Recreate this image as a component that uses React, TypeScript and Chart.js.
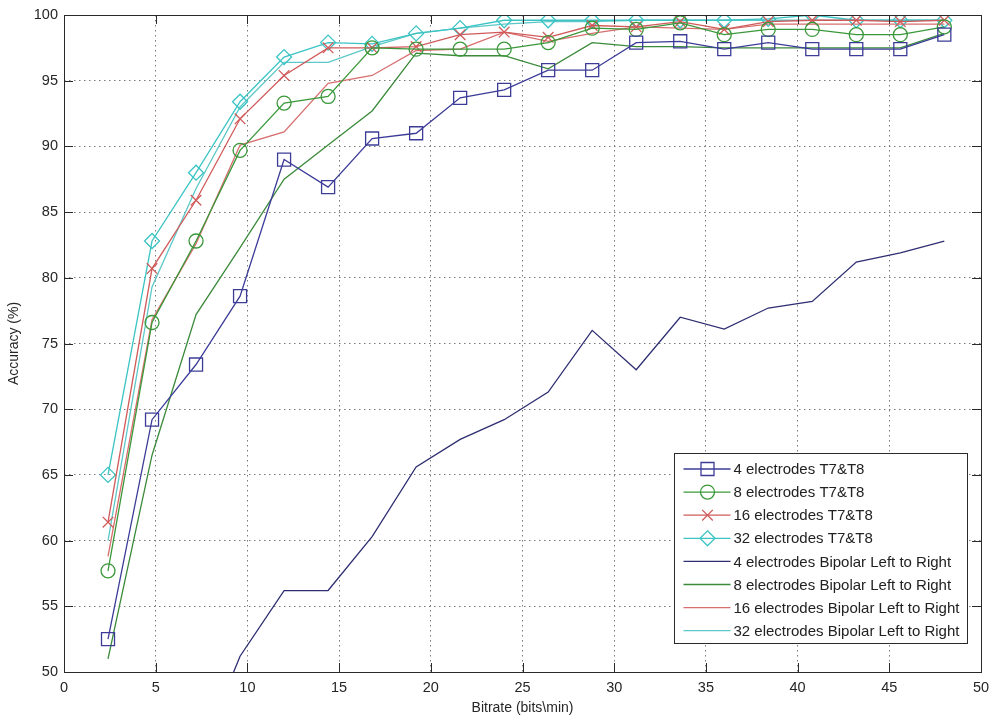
import React, { useEffect, useRef } from 'react';
import { Chart, registerables } from 'chart.js';

Chart.register(...registerables);

// ---- data ----
const bitrate = [2.4, 4.8, 7.2, 9.6, 12, 14.4, 16.8, 19.2, 21.6, 24, 26.4, 28.8, 31.2, 33.6, 36, 38.4, 40.8, 43.2, 45.6, 48];

const acc4T7T8 = [52.5, 69.2, 73.4, 78.6, 89.0, 86.9, 90.6, 91.0, 93.7, 94.3, 95.8, 95.8, 97.9, 98.0, 97.4, 97.9, 97.4, 97.4, 97.4, 98.5];
const acc8T7T8 = [57.7, 76.6, 82.8, 89.7, 93.3, 93.8, 97.5, 97.4, 97.4, 97.4, 97.9, 99.0, 98.9, 99.4, 98.5, 98.9, 98.9, 98.5, 98.5, 99.1];
const acc16T7T8 = [61.4, 80.7, 85.9, 92.1, 95.4, 97.5, 97.5, 97.6, 98.5, 98.7, 98.3, 99.2, 99.1, 99.5, 98.9, 99.5, 99.6, 99.6, 99.5, 99.6];
const acc32T7T8 = [65.0, 82.8, 88.0, 93.4, 96.8, 97.9, 97.8, 98.6, 99.0, 99.6, 99.6, 99.6, 99.6, 99.6, 99.6, 99.7, 100.0, 99.6, 99.6, 99.6];

const acc4Bipolar = [null, null, 43.0, 51.2, 56.2, 56.2, 60.3, 65.6, 67.7, 69.2, 71.3, 76.0, 73.0, 77.0, 76.1, 77.7, 78.2, 81.2, 81.9, 82.8];
const acc8Bipolar = [51.0, 66.5, 77.2, 82.3, 87.5, 90.1, 92.7, 97.1, 96.9, 96.9, 95.9, 97.9, 97.6, 97.6, 97.5, 97.5, 97.5, 97.5, 97.5, 98.6];
const acc16Bipolar = [58.8, 76.8, 82.6, 90.1, 91.1, 94.8, 95.4, 97.3, 97.4, 98.7, 98.0, 98.6, 99.1, 99.0, 98.9, 99.3, 99.3, 99.3, 99.3, 99.3];
const acc32Bipolar = [60.0, 79.3, 86.8, 93.0, 96.4, 96.4, 97.6, 98.6, 99.0, 99.3, 99.5, 99.5, 99.6, 99.6, 99.6, 99.6, 99.6, 99.6, 99.6, 99.6];

const seriesLabels = [
  '4 electrodes T7&T8',
  '8 electrodes T7&T8',
  '16 electrodes T7&T8',
  '32 electrodes T7&T8',
  '4 electrodes Bipolar Left to Right',
  '8 electrodes Bipolar Left to Right',
  '16 electrodes Bipolar Left to Right',
  '32 electrodes Bipolar Left to Right',
];
const seriesValues = [acc4T7T8, acc8T7T8, acc16T7T8, acc32T7T8, acc4Bipolar, acc8Bipolar, acc16Bipolar, acc32Bipolar];
const seriesColors = ['#3c3c98', '#3a983a', '#d05a5a', '#3cc4c4', '#2e2e72', '#3a8a3a', '#d86e6e', '#5cc8c8'];
const seriesMarkers = ['square', 'circle', 'x', 'diamond', 'none', 'none', 'none', 'none'];

const xTickValues = [0, 5, 10, 15, 20, 25, 30, 35, 40, 45, 50];
const yTickValues = [50, 55, 60, 65, 70, 75, 80, 85, 90, 95, 100];
const xTitle = 'Bitrate (bits\\min)';
const yTitle = 'Accuracy (%)';

const FONT = '"Liberation Sans", Arial, Helvetica, sans-serif';

const pointStyleFor = (m: string) =>
  m === 'square' ? 'rect' : m === 'circle' ? 'circle' : m === 'x' ? 'crossRot' : m === 'diamond' ? 'rectRot' : false;
const radiusFor = (m: string) =>
  m === 'square' ? 9.2 : m === 'circle' ? 7 : m === 'x' ? 7.5 : m === 'diamond' ? 7.5 : 0;

function drawMarker(ctx: CanvasRenderingContext2D, m: string, x: number, y: number) {
  ctx.beginPath();
  if (m === 'square') {
    ctx.rect(x - 6.5, y - 6.5, 13, 13);
  } else if (m === 'circle') {
    ctx.arc(x, y, 7, 0, Math.PI * 2);
  } else if (m === 'x') {
    ctx.moveTo(x - 5.3, y - 5.3); ctx.lineTo(x + 5.3, y + 5.3);
    ctx.moveTo(x + 5.3, y - 5.3); ctx.lineTo(x - 5.3, y + 5.3);
  } else if (m === 'diamond') {
    ctx.moveTo(x, y - 7.5); ctx.lineTo(x + 7.5, y); ctx.lineTo(x, y + 7.5); ctx.lineTo(x - 7.5, y); ctx.closePath();
  } else {
    return;
  }
  ctx.stroke();
}

const framePlugin = {
  id: 'matlabFrame',
  afterDraw(chart: any) {
    const { ctx, chartArea: a, scales } = chart;
    const xs = scales.x;
    const ys = scales.y;
    ctx.save();
    ctx.setLineDash([]);
    ctx.strokeStyle = '#2a2a2a';
    ctx.lineWidth = 1;
    ctx.strokeRect(Math.round(a.left) + 0.5, Math.round(a.top) + 0.5, Math.round(a.right - a.left), Math.round(a.bottom - a.top));
    ctx.beginPath();
    for (const v of xTickValues) {
      const px = Math.round(xs.getPixelForValue(v)) + 0.5;
      ctx.moveTo(px, a.bottom); ctx.lineTo(px, a.bottom - 9);
      ctx.moveTo(px, a.top); ctx.lineTo(px, a.top + 9);
    }
    for (const v of yTickValues) {
      const py = Math.round(ys.getPixelForValue(v)) + 0.5;
      ctx.moveTo(a.left, py); ctx.lineTo(a.left + 9, py);
      ctx.moveTo(a.right, py); ctx.lineTo(a.right - 9, py);
    }
    ctx.stroke();

    // legend box
    const w = 293;
    const h = 190;
    const lx = Math.round(a.right - 14 - w) + 0.5;
    const ly = Math.round(a.bottom - 29 - h) + 0.5;
    ctx.fillStyle = '#ffffff';
    ctx.fillRect(lx, ly, w, h);
    ctx.strokeStyle = '#2a2a2a';
    ctx.strokeRect(lx, ly, w, h);
    ctx.font = '15px ' + FONT;
    ctx.textBaseline = 'middle';
    ctx.textAlign = 'left';
    seriesLabels.forEach((label, i) => {
      const cy = ly + 15.5 + i * 23.1;
      ctx.strokeStyle = seriesColors[i];
      ctx.lineWidth = 1.3;
      ctx.beginPath();
      ctx.moveTo(lx + 9, cy); ctx.lineTo(lx + 56, cy);
      ctx.stroke();
      drawMarker(ctx, seriesMarkers[i], lx + 33, cy);
      ctx.fillStyle = '#222222';
      ctx.fillText(label, lx + 59, cy + 1);
    });
    ctx.restore();
  },
};

export default function App() {
  const canvasRef = useRef<HTMLCanvasElement | null>(null);

  useEffect(() => {
    if (!canvasRef.current) return;
    const datasets = seriesLabels.map((label, i) => ({
      label,
      data: bitrate.map((x, j) => ({ x, y: seriesValues[i][j] })),
      borderColor: seriesColors[i],
      backgroundColor: 'rgba(0,0,0,0)',
      borderWidth: 1.3,
      pointStyle: pointStyleFor(seriesMarkers[i]) as any,
      pointRadius: radiusFor(seriesMarkers[i]),
      pointBorderWidth: 1.3,
      pointBorderColor: seriesColors[i],
      pointBackgroundColor: 'rgba(0,0,0,0)',
      tension: 0,
      spanGaps: false,
      fill: false,
    }));

    const chart = new Chart(canvasRef.current, {
      type: 'line',
      data: { datasets },
      plugins: [framePlugin],
      options: {
        animation: false,
        responsive: false,
        events: [],
        layout: { padding: { left: 0, right: 12, top: 15, bottom: 0 } },
        plugins: { legend: { display: false }, tooltip: { enabled: false } },
        scales: {
          x: {
            type: 'linear',
            min: 0,
            max: 50,
            afterFit: (s: any) => { s.height = 50; s.paddingLeft = 0; s.paddingRight = 0; },
            afterBuildTicks: (s: any) => { s.ticks = xTickValues.map((v) => ({ value: v })); },
            ticks: { color: '#262626', padding: 7, font: { family: FONT, size: 14.5 } },
            grid: { color: '#7a7a7a', lineWidth: 1, drawTicks: false },
            border: { display: false, dash: [1.5, 3.5] },
            title: { display: true, text: xTitle, color: '#262626', font: { family: FONT, size: 14 }, padding: { top: 0, bottom: 5.6 } },
          },
          y: {
            type: 'linear',
            min: 50,
            max: 100,
            afterFit: (s: any) => { s.width = 64; s.paddingTop = 0; s.paddingBottom = 0; },
            afterBuildTicks: (s: any) => { s.ticks = yTickValues.map((v) => ({ value: v })); },
            ticks: { color: '#262626', padding: 6, font: { family: FONT, size: 14.5 } },
            grid: { color: '#7a7a7a', lineWidth: 1, drawTicks: false },
            border: { display: false, dash: [1.5, 3.5] },
            title: { display: true, text: yTitle, color: '#262626', font: { family: FONT, size: 14 }, padding: { top: 5.6, bottom: 0 } },
          },
        },
      },
    });
    return () => chart.destroy();
  }, []);

  return (
    <div style={{ position: 'fixed', left: 0, top: 0, width: 993, height: 722, background: '#ffffff' }}>
      <canvas ref={canvasRef} width={993} height={722} style={{ display: 'block', width: 993, height: 722 }} />
    </div>
  );
}
